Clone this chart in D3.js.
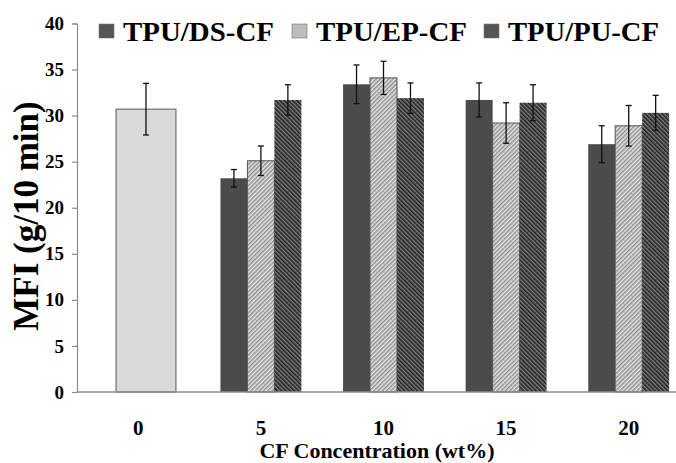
<!DOCTYPE html>
<html>
<head>
<meta charset="utf-8">
<script src="https://cdn.jsdelivr.net/npm/d3@7"></script>
<style>
body { margin: 0; background: #fff; }
text { font-family: "Liberation Serif", "Times New Roman", serif; font-weight: bold; fill: #000; }
</style>
</head>
<body>
<svg id="chart" width="676" height="463"></svg>
<script>
// data ======================================================================
var categories = ["0", "5", "10", "15", "20"];
var seriesNames = ["TPU/DS-CF", "TPU/EP-CF", "TPU/PU-CF"];
var controlValue = 30.7;
var controlErr = 2.8;
// values for the 5..20 wt% groups
var dsValues = [23.2, 33.4, 31.7, 26.9];
var epValues = [25.1, 34.1, 29.2, 28.9];
var puValues = [31.7, 31.9, 31.4, 30.3];
var dsErr = [0.95, 2.1, 1.85, 2.0];
var epErr = [1.6, 1.8, 2.2, 2.2];
var puErr = [1.65, 1.65, 1.95, 1.9];
var yTicks = [0, 5, 10, 15, 20, 25, 30, 35, 40];

var svg = d3.select("#chart");
var axisColor = "#8c8c8c";

// patterns ==================================================================
var defs = svg.append("defs");
var epPat = defs.append("pattern")
	.attr("id", "epPat")
	.attr("patternUnits", "userSpaceOnUse")
	.attr("width", 3).attr("height", 3)
	.attr("patternTransform", "rotate(45)");
epPat.append("rect").attr("width", 3).attr("height", 3).attr("fill", "#e6e6e6");
epPat.append("rect").attr("width", 1.5).attr("height", 3).attr("fill", "#8e8e8e");

var puPat = defs.append("pattern")
	.attr("id", "puPat")
	.attr("patternUnits", "userSpaceOnUse")
	.attr("width", 3).attr("height", 3)
	.attr("patternTransform", "rotate(-45)");
puPat.append("rect").attr("width", 3).attr("height", 3).attr("fill", "#7e7e7e");
puPat.append("rect").attr("width", 1.6).attr("height", 3).attr("fill", "#222");

var fills = {
	"TPU/DS-CF": "#4b4b4b",
	"TPU/EP-CF": "url(#epPat)",
	"TPU/PU-CF": "url(#puPat)"
};
var strokes = {
	"TPU/DS-CF": "none",
	"TPU/EP-CF": "#555",
	"TPU/PU-CF": "none"
};

// scales ====================================================================
var xScale = d3.scaleBand()
	.domain(categories)
	.range([77, 690])
	.paddingInner(0.34)
	.paddingOuter(0.17);

var xInner = d3.scaleBand()
	.domain(seriesNames)
	.range([0, xScale.bandwidth()]);

var yScale = d3.scaleLinear()
	.domain([0, 40])
	.range([392, 23.5]);

// axes ======================================================================
var yAxis = d3.axisLeft(yScale)
	.tickValues(yTicks)
	.tickSize(5)
	.tickPadding(8);

var gy = svg.append("g")
	.attr("transform", "translate(77,0)")
	.call(yAxis);
gy.select(".domain").attr("stroke", axisColor).attr("stroke-width", 1.2);
gy.selectAll(".tick line").attr("stroke", axisColor).attr("stroke-width", 1.2);
gy.selectAll(".tick text")
	.attr("font-size", 19)
	.attr("fill", "#000");

var xAxis = d3.axisBottom(xScale)
	.tickSize(0)
	.tickPadding(28);

var gx = svg.append("g")
	.attr("transform", "translate(0," + yScale(0) + ")")
	.call(xAxis);
gx.select(".domain").remove();
gx.selectAll(".tick text")
	.attr("font-size", 21)
	.attr("fill", "#000");

// bars ======================================================================
var bars = [];
var groupCats = categories.slice(1);
groupCats.forEach(function(c, i) {
	bars.push({ cat: c, s: seriesNames[0], v: dsValues[i], e: dsErr[i] });
	bars.push({ cat: c, s: seriesNames[1], v: epValues[i], e: epErr[i] });
	bars.push({ cat: c, s: seriesNames[2], v: puValues[i], e: puErr[i] });
});

var bw = xInner.bandwidth();

// control (0 wt%) bar
var cx0 = xScale("0") + xScale.bandwidth() * 0.225;
var cw = xScale.bandwidth() * 0.74;
svg.append("rect")
	.attr("x", cx0)
	.attr("y", yScale(controlValue))
	.attr("width", cw)
	.attr("height", yScale(0) - yScale(controlValue))
	.attr("fill", "#d9d9d9")
	.attr("stroke", "#6e6e6e")
	.attr("stroke-width", 1.2);

svg.selectAll("rect.bar")
	.data(bars)
	.enter()
	.append("rect")
	.attr("class", "bar")
	.attr("x", function(d) { return xScale(d.cat) + xInner(d.s); })
	.attr("y", function(d) { return yScale(d.v); })
	.attr("width", bw)
	.attr("height", function(d) { return yScale(0) - yScale(d.v); })
	.attr("fill", function(d) { return fills[d.s]; })
	.attr("stroke", function(d) { return strokes[d.s]; })
	.attr("stroke-width", 1);

// x axis line drawn over the bars
svg.append("line")
	.attr("x1", 77).attr("x2", 676)
	.attr("y1", yScale(0)).attr("y2", yScale(0))
	.attr("stroke", axisColor)
	.attr("stroke-width", 1.4);

// error bars ================================================================
var errs = bars.map(function(d) {
	return { x: xScale(d.cat) + xInner(d.s) + bw / 2, v: d.v, e: d.e };
});
errs.push({ x: cx0 + cw / 2, v: controlValue, e: controlErr });

var eg = svg.selectAll("g.err")
	.data(errs)
	.enter()
	.append("g")
	.attr("class", "err")
	.attr("stroke", "#111")
	.attr("stroke-width", 1.3);

eg.append("line")
	.attr("x1", function(d) { return d.x; })
	.attr("x2", function(d) { return d.x; })
	.attr("y1", function(d) { return yScale(d.v + d.e); })
	.attr("y2", function(d) { return yScale(d.v - d.e); });
eg.append("line")
	.attr("x1", function(d) { return d.x - 3; })
	.attr("x2", function(d) { return d.x + 3; })
	.attr("y1", function(d) { return yScale(d.v + d.e); })
	.attr("y2", function(d) { return yScale(d.v + d.e); });
eg.append("line")
	.attr("x1", function(d) { return d.x - 3; })
	.attr("x2", function(d) { return d.x + 3; })
	.attr("y1", function(d) { return yScale(d.v - d.e); })
	.attr("y2", function(d) { return yScale(d.v - d.e); });

// titles ====================================================================
svg.append("text")
	.attr("x", 377)
	.attr("y", 458)
	.attr("text-anchor", "middle")
	.attr("font-size", 22)
	.text("CF Concentration (wt%)");

svg.append("text")
	.attr("transform", "translate(38,216) rotate(-90)")
	.attr("text-anchor", "middle")
	.attr("font-size", 35)
	.text("MFI (g/10 min)");

// legend ====================================================================
var legendX = [99, 292, 484];
var legend = svg.selectAll("g.legend")
	.data(seriesNames)
	.enter()
	.append("g")
	.attr("class", "legend")
	.attr("transform", function(d, i) { return "translate(" + legendX[i] + ",0)"; });

legend.append("rect")
	.attr("x", 0).attr("y", 24)
	.attr("width", 15).attr("height", 14)
	.attr("fill", function(d) { return d === seriesNames[1] ? "#bdbdbd" : "#555"; })
	.attr("stroke", "#777")
	.attr("stroke-width", 0.6);

legend.append("text")
	.attr("x", 24)
	.attr("y", 41)
	.attr("font-size", 28)
	.attr("textLength", 151)
	.attr("lengthAdjust", "spacingAndGlyphs")
	.text(function(d) { return d; });
</script>
</body>
</html>
